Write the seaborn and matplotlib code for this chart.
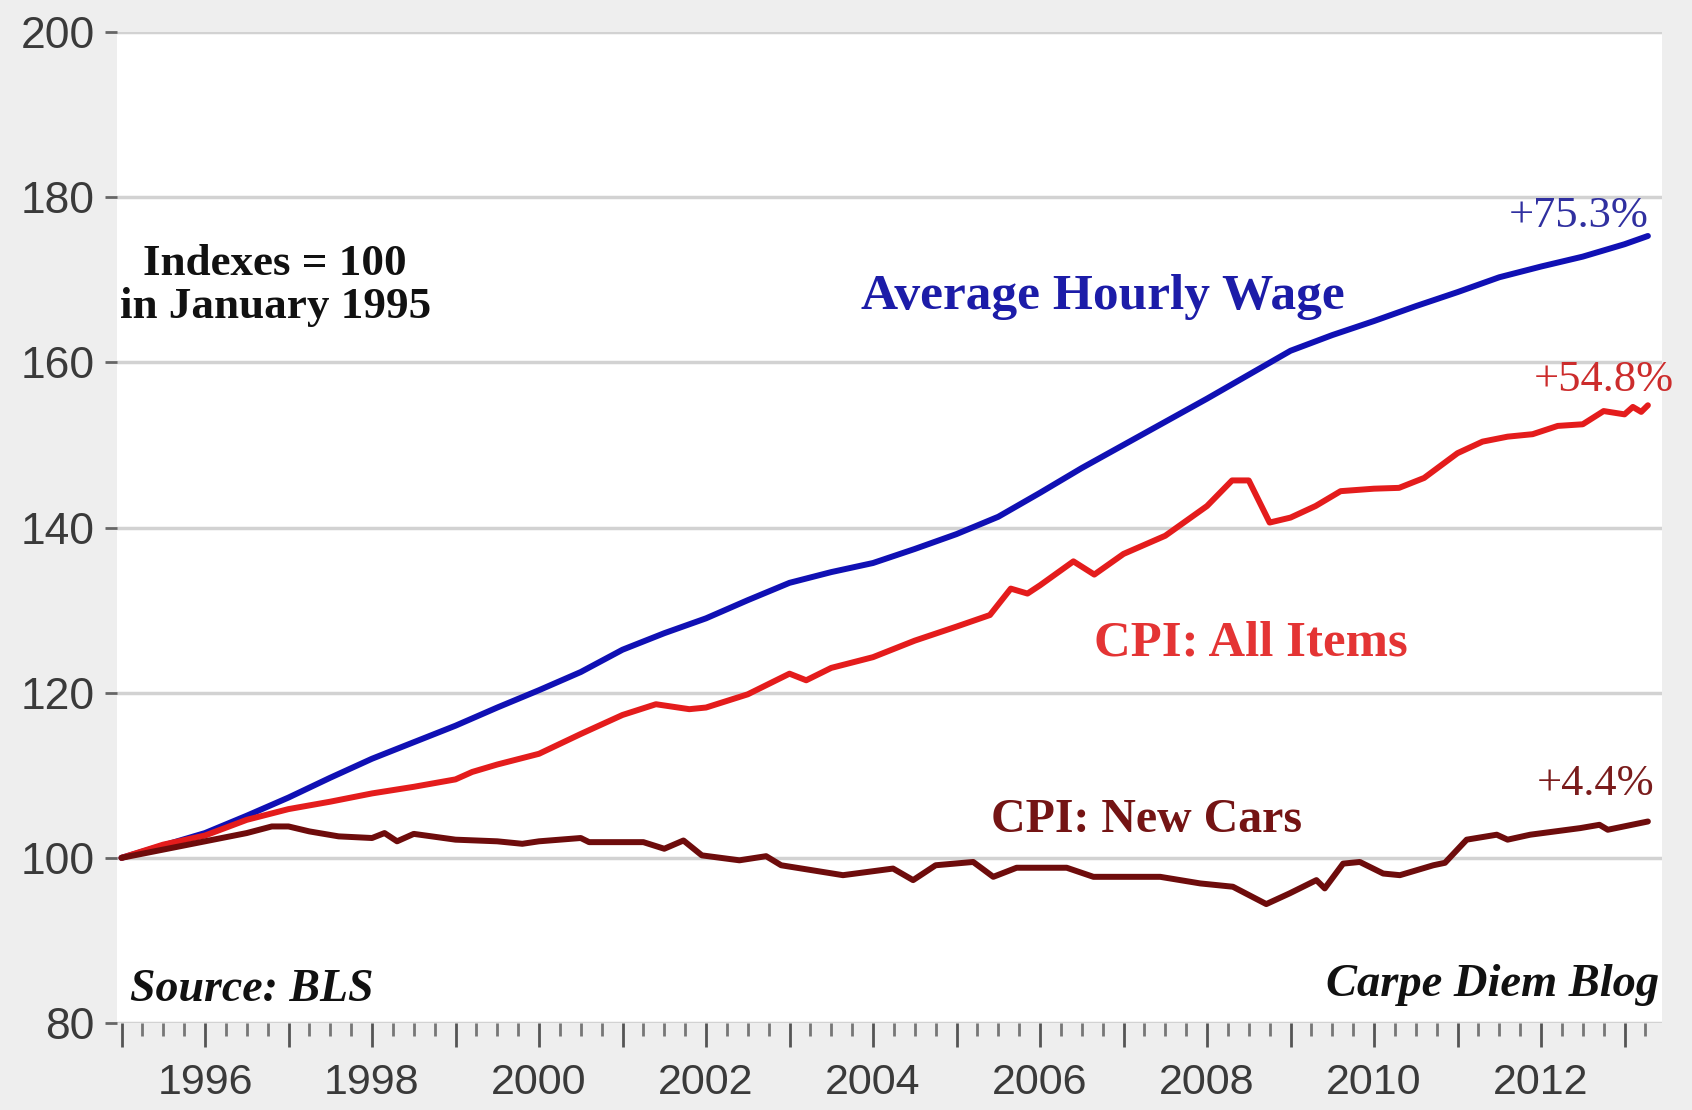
import pandas as pd
import matplotlib.pyplot as plt
from matplotlib.ticker import MultipleLocator, FuncFormatter
import seaborn as sns

# === data (index, Jan 1995 = 100) ===
wage_t = [1995.0, 1995.5, 1996.0, 1996.5, 1997.0, 1997.5, 1998.0, 1998.5, 1999.0, 1999.5,
          2000.0, 2000.5, 2001.0, 2001.5, 2002.0, 2002.5, 2003.0, 2003.5, 2004.0, 2004.5,
          2005.0, 2005.5, 2006.0, 2006.5, 2007.0, 2007.5, 2008.0, 2008.5, 2009.0, 2009.5,
          2010.0, 2010.5, 2011.0, 2011.5, 2012.0, 2012.5, 2013.0, 2013.28]
wage = [100.0, 101.5, 103.0, 105.1, 107.3, 109.7, 112.0, 114.0, 116.0, 118.2,
        120.3, 122.5, 125.2, 127.2, 129.0, 131.2, 133.3, 134.6, 135.7, 137.4,
        139.2, 141.3, 144.2, 147.2, 150.0, 152.8, 155.6, 158.5, 161.4, 163.3,
        165.0, 166.8, 168.5, 170.3, 171.6, 172.8, 174.3, 175.3]

cpi_t = [1995.0, 1995.5, 1996.0, 1996.5, 1997.0, 1997.5, 1998.0, 1998.5, 1999.0, 1999.2,
         1999.5, 2000.0, 2000.5, 2001.0, 2001.4, 2001.8, 2002.0, 2002.5, 2003.0, 2003.2,
         2003.5, 2004.0, 2004.5, 2005.0, 2005.4, 2005.65, 2005.85, 2006.0, 2006.4, 2006.65,
         2007.0, 2007.5, 2008.0, 2008.3, 2008.5, 2008.75, 2009.0, 2009.3, 2009.6, 2010.0,
         2010.3, 2010.6, 2011.0, 2011.3, 2011.6, 2011.9, 2012.2, 2012.5, 2012.75, 2013.0,
         2013.1, 2013.2, 2013.28]
cpi = [100.0, 101.6, 102.7, 104.6, 105.9, 106.8, 107.8, 108.6, 109.5, 110.4,
       111.3, 112.6, 115.0, 117.3, 118.6, 118.0, 118.2, 119.8, 122.3, 121.5,
       123.0, 124.3, 126.3, 128.0, 129.4, 132.6, 132.0, 133.0, 135.9, 134.3,
       136.8, 139.0, 142.6, 145.7, 145.7, 140.6, 141.2, 142.6, 144.4, 144.7,
       144.8, 146.0, 149.0, 150.4, 151.0, 151.3, 152.3, 152.5, 154.1, 153.7,
       154.6, 154.0, 154.8]

cars_t = [1995.0, 1995.5, 1996.0, 1996.5, 1996.8, 1997.0, 1997.25, 1997.6, 1998.0, 1998.15,
          1998.3, 1998.5, 1999.0, 1999.5, 1999.8, 2000.0, 2000.5, 2000.6, 2001.25, 2001.5,
          2001.73, 2001.95, 2002.4, 2002.72, 2002.9, 2003.64, 2004.24, 2004.48, 2004.75, 2005.2,
          2005.44, 2005.72, 2006.32, 2006.64, 2007.44, 2007.92, 2008.31, 2008.71, 2008.99, 2009.31,
          2009.41, 2009.63, 2009.83, 2010.11, 2010.31, 2010.71, 2010.85, 2011.11, 2011.47, 2011.6,
          2011.87, 2012.47, 2012.7, 2012.8, 2013.28]
cars = [100.0, 101.0, 102.0, 103.0, 103.8, 103.8, 103.2, 102.6, 102.4, 103.0,
        102.0, 102.9, 102.2, 102.0, 101.7, 102.0, 102.4, 101.9, 101.9, 101.1,
        102.1, 100.3, 99.7, 100.2, 99.1, 97.9, 98.7, 97.3, 99.1, 99.5,
        97.7, 98.8, 98.8, 97.7, 97.7, 96.9, 96.5, 94.4, 95.7, 97.3,
        96.3, 99.3, 99.5, 98.1, 97.9, 99.1, 99.4, 102.2, 102.8, 102.2,
        102.8, 103.6, 104.0, 103.4, 104.4]

series_names = ["Average Hourly Wage", "CPI: All Items", "CPI: New Cars"]
colors = ["#1010b4", "#e41c1c", "#6e0c0c"]

df = pd.concat([
    pd.DataFrame({"year": wage_t, "index": wage, "series": series_names[0]}),
    pd.DataFrame({"year": cpi_t, "index": cpi, "series": series_names[1]}),
    pd.DataFrame({"year": cars_t, "index": cars, "series": series_names[2]}),
])

# === style ===
sns.set_style("white")
plt.rcParams['font.family'] = ['Liberation Sans', 'DejaVu Sans']

fig = plt.figure(figsize=(16.92, 11.10), dpi=100, facecolor="#eeeeee")
ax = fig.add_axes([117 / 1692, 1 - 1023 / 1110, (1662 - 117) / 1692, (1023 - 32) / 1110])
ax.set_facecolor("white")

sns.lineplot(data=df, x="year", y="index", hue="series", palette=colors,
             linewidth=4.3, legend=False, ax=ax, sort=False)

ax.set_xlim(1994.946, 2013.449)
ax.set_ylim(80, 200)
ax.set_yticks(range(80, 201, 20))
ax.yaxis.grid(True, color="#d2d2d2", linewidth=2.5)
ax.xaxis.grid(False)
ax.set_axisbelow(True)
for s in ax.spines.values():
    s.set_visible(False)

ax.xaxis.set_major_locator(MultipleLocator(1))
ax.xaxis.set_minor_locator(MultipleLocator(0.25))
ax.xaxis.set_major_formatter(FuncFormatter(lambda v, p: f"{int(round(v))}" if int(round(v)) % 2 == 0 else ""))
ax.tick_params(axis="x", which="both", bottom=True)
ax.tick_params(axis="y", which="major", left=True)
ax.tick_params(axis="x", which="major", length=17, width=2, color="#555555",
               labelsize=31, labelcolor="#3a3a3a", pad=12)
ax.tick_params(axis="x", which="minor", length=9, width=2, color="#777777")
ax.tick_params(axis="y", which="major", length=9, width=2, color="#666666",
               labelsize=32, labelcolor="#3a3a3a", pad=7)
ax.set_xlabel("")
ax.set_ylabel("")

# === annotations ===
serif = ['Liberation Serif', 'DejaVu Serif']
ax.text(1996.84, 169.3, "Indexes = 100\nin January 1995", ha="center", va="center",
        fontsize=32.5, fontweight="bold", family=serif, color="#111111", linespacing=1.1)
ax.text(2006.75, 167.9, "Average Hourly Wage", ha="center", va="center",
        fontsize=37, fontweight="bold", family=serif, color="#1c1ca8")
ax.text(2008.52, 125.9, "CPI: All Items", ha="center", va="center",
        fontsize=36.5, fontweight="bold", family=serif, color="#e43434")
ax.text(2007.28, 104.6, "CPI: New Cars", ha="center", va="center",
        fontsize=34.5, fontweight="bold", family=serif, color="#741414")
ax.text(2012.45, 177.7, "+75.3%", ha="center", va="center",
        fontsize=32, family=serif, color="#3030a0")
ax.text(2012.75, 157.9, "+54.8%", ha="center", va="center",
        fontsize=32, family=serif, color="#cc2c2c")
ax.text(2012.65, 109.0, "+4.4%", ha="center", va="center",
        fontsize=32, family=serif, color="#7a1c1c")
ax.text(1995.1, 84.0, "Source: BLS", ha="left", va="center",
        fontsize=33, fontweight="bold", fontstyle="italic", family=serif, color="#111111")
ax.text(2013.42, 84.6, "Carpe Diem Blog", ha="right", va="center",
        fontsize=33.5, fontweight="bold", fontstyle="italic", family=serif, color="#111111")

fig.savefig("out.png", dpi=100, facecolor=fig.get_facecolor())
